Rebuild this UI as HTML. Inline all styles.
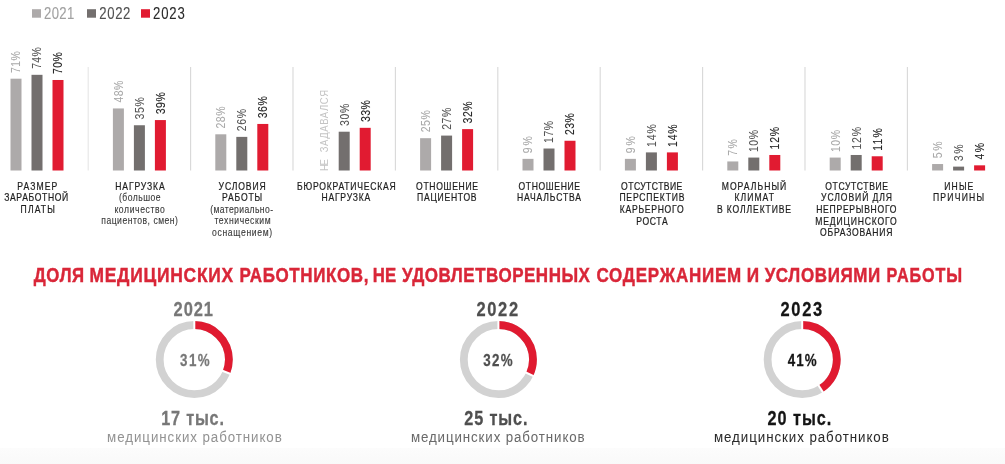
<!DOCTYPE html>
<html><head><meta charset="utf-8"><style>
html,body{margin:0;padding:0;background:#fff;overflow:hidden;}
svg{display:block;font-family:"Liberation Sans",sans-serif;will-change:transform;}
</style></head><body>
<svg width="1005" height="464" viewBox="0 0 1005 464">
<defs><linearGradient id="bg" x1="0" y1="0" x2="0" y2="1"><stop offset="0" stop-color="#fcfcfc"/><stop offset="1" stop-color="#f9f9f9"/></linearGradient></defs>
<rect x="0" y="448" width="1005" height="16" fill="url(#bg)"/>
<g id="shapes">
<rect x="32" y="9.2" width="9" height="8.5" fill="#adaaaa"/>
<rect x="87" y="9.2" width="9" height="8.5" fill="#736f6e"/>
<rect x="141" y="9.2" width="9" height="8.5" fill="#e11b31"/>
<line x1="88.20" y1="67" x2="88.20" y2="170.5" stroke="#e6e6e6" stroke-width="1.1"/>
<rect x="10.50" y="78.70" width="11" height="91.80" fill="#adaaaa"/>
<rect x="31.50" y="74.82" width="11" height="95.68" fill="#736f6e"/>
<rect x="52.50" y="79.99" width="11" height="90.51" fill="#e11b31"/>
<line x1="190.60" y1="67" x2="190.60" y2="170.5" stroke="#d8d8d8" stroke-width="1.1"/>
<rect x="112.90" y="108.44" width="11" height="62.06" fill="#adaaaa"/>
<rect x="133.90" y="125.25" width="11" height="45.25" fill="#736f6e"/>
<rect x="154.90" y="120.07" width="11" height="50.43" fill="#e11b31"/>
<line x1="293.00" y1="67" x2="293.00" y2="170.5" stroke="#d8d8d8" stroke-width="1.1"/>
<rect x="215.30" y="134.30" width="11" height="36.20" fill="#adaaaa"/>
<rect x="236.30" y="136.88" width="11" height="33.62" fill="#736f6e"/>
<rect x="257.30" y="123.95" width="11" height="46.55" fill="#e11b31"/>
<line x1="395.40" y1="67" x2="395.40" y2="170.5" stroke="#d8d8d8" stroke-width="1.1"/>
<rect x="338.70" y="131.71" width="11" height="38.79" fill="#736f6e"/>
<rect x="359.70" y="127.83" width="11" height="42.67" fill="#e11b31"/>
<line x1="497.80" y1="67" x2="497.80" y2="170.5" stroke="#d8d8d8" stroke-width="1.1"/>
<rect x="420.10" y="138.18" width="11" height="32.32" fill="#adaaaa"/>
<rect x="441.10" y="135.59" width="11" height="34.91" fill="#736f6e"/>
<rect x="462.10" y="129.12" width="11" height="41.38" fill="#e11b31"/>
<line x1="600.20" y1="67" x2="600.20" y2="170.5" stroke="#d8d8d8" stroke-width="1.1"/>
<rect x="522.50" y="158.86" width="11" height="11.64" fill="#adaaaa"/>
<rect x="543.50" y="148.52" width="11" height="21.98" fill="#736f6e"/>
<rect x="564.50" y="140.76" width="11" height="29.74" fill="#e11b31"/>
<line x1="702.60" y1="67" x2="702.60" y2="170.5" stroke="#d8d8d8" stroke-width="1.1"/>
<rect x="624.90" y="158.86" width="11" height="11.64" fill="#adaaaa"/>
<rect x="645.90" y="152.40" width="11" height="18.10" fill="#736f6e"/>
<rect x="666.90" y="152.40" width="11" height="18.10" fill="#e11b31"/>
<line x1="805.00" y1="67" x2="805.00" y2="170.5" stroke="#d8d8d8" stroke-width="1.1"/>
<rect x="727.30" y="161.45" width="11" height="9.05" fill="#adaaaa"/>
<rect x="748.30" y="157.57" width="11" height="12.93" fill="#736f6e"/>
<rect x="769.30" y="154.98" width="11" height="15.52" fill="#e11b31"/>
<line x1="907.40" y1="67" x2="907.40" y2="170.5" stroke="#d8d8d8" stroke-width="1.1"/>
<rect x="829.70" y="157.57" width="11" height="12.93" fill="#adaaaa"/>
<rect x="850.70" y="154.98" width="11" height="15.52" fill="#736f6e"/>
<rect x="871.70" y="156.28" width="11" height="14.22" fill="#e11b31"/>
<rect x="932.10" y="164.03" width="11" height="6.46" fill="#adaaaa"/>
<rect x="953.10" y="166.62" width="11" height="3.88" fill="#736f6e"/>
<rect x="974.10" y="165.33" width="11" height="5.17" fill="#e11b31"/>
<circle cx="194.3" cy="359.6" r="34.6" fill="none" stroke="#d2d2d2" stroke-width="7.8"/>
<circle cx="194.3" cy="359.6" r="34.6" fill="none" stroke="#e01a30" stroke-width="7.8" stroke-dasharray="67.39 217.40" transform="rotate(-90 194.3 359.6)"/>
<line x1="194.30" y1="332.80" x2="194.30" y2="317.20" stroke="#fff" stroke-width="2.0"/>
<line x1="219.22" y1="369.47" x2="233.72" y2="375.21" stroke="#fff" stroke-width="2.0"/>
<circle cx="498.4" cy="359.6" r="34.6" fill="none" stroke="#d2d2d2" stroke-width="7.8"/>
<circle cx="498.4" cy="359.6" r="34.6" fill="none" stroke="#e01a30" stroke-width="7.8" stroke-dasharray="69.57 217.40" transform="rotate(-90 498.4 359.6)"/>
<line x1="498.40" y1="332.80" x2="498.40" y2="317.20" stroke="#fff" stroke-width="2.0"/>
<line x1="522.65" y1="371.01" x2="536.76" y2="377.65" stroke="#fff" stroke-width="2.0"/>
<circle cx="802.2" cy="359.6" r="34.6" fill="none" stroke="#d2d2d2" stroke-width="7.8"/>
<circle cx="802.2" cy="359.6" r="34.6" fill="none" stroke="#e01a30" stroke-width="7.8" stroke-dasharray="89.13 217.40" transform="rotate(-90 802.2 359.6)"/>
<line x1="802.20" y1="332.80" x2="802.20" y2="317.20" stroke="#fff" stroke-width="2.0"/>
<line x1="816.56" y1="382.23" x2="824.92" y2="395.40" stroke="#fff" stroke-width="2.0"/>
</g>
<g id="texts">
<text id="leg0" transform="translate(44.11,18.50) scale(0.82,1)" font-size="16" stroke="#a0a0a0" stroke-width="0.1" fill="#a0a0a0" textLength="36.69" lengthAdjust="spacing">2021</text>
<text id="leg1" transform="translate(99.26,18.50) scale(0.82,1)" font-size="16" stroke="#505050" stroke-width="0.1" fill="#505050" textLength="37.98" lengthAdjust="spacing">2022</text>
<text id="leg2" transform="translate(152.96,18.50) scale(0.82,1)" font-size="16" stroke="#2a2a2a" stroke-width="0.1" fill="#2a2a2a" textLength="38.82" lengthAdjust="spacing">2023</text>
<text id="g0b0" transform="translate(20.40,73.04) rotate(-90) scale(0.84,1)" font-size="12.5" stroke="#a9a9a9" stroke-width="0.06" fill="#a9a9a9" textLength="26.04" lengthAdjust="spacing">71%</text>
<text id="g0b1" transform="translate(41.40,68.87) rotate(-90) scale(0.84,1)" font-size="12.5" stroke="#555555" stroke-width="0.06" fill="#555555" textLength="25.80" lengthAdjust="spacing">74%</text>
<text id="g0b2" transform="translate(62.40,74.06) rotate(-90) scale(0.84,1)" font-size="12.5" stroke="#262626" stroke-width="0.12" fill="#262626" textLength="26.21" lengthAdjust="spacing">70%</text>
<text id="g0c0" transform="translate(17.33,189.60) scale(0.86,1)" font-size="10" stroke="#1e1e1e" stroke-width="0.22" fill="#1e1e1e" textLength="46.54" lengthAdjust="spacing">РАЗМЕР</text>
<text id="g0c1" transform="translate(4.18,201.25) scale(0.86,1)" font-size="10" stroke="#1e1e1e" stroke-width="0.22" fill="#1e1e1e" textLength="74.50" lengthAdjust="spacing">ЗАРАБОТНОЙ</text>
<text id="g0c2" transform="translate(20.60,212.90) scale(0.86,1)" font-size="10" stroke="#1e1e1e" stroke-width="0.22" fill="#1e1e1e" textLength="39.86" lengthAdjust="spacing">ПЛАТЫ</text>
<text id="g1b0" transform="translate(122.80,102.46) rotate(-90) scale(0.84,1)" font-size="12.5" stroke="#a9a9a9" stroke-width="0.06" fill="#a9a9a9" textLength="26.10" lengthAdjust="spacing">48%</text>
<text id="g1b1" transform="translate(143.80,119.47) rotate(-90) scale(0.84,1)" font-size="12.5" stroke="#555555" stroke-width="0.06" fill="#555555" textLength="26.58" lengthAdjust="spacing">35%</text>
<text id="g1b2" transform="translate(164.80,114.37) rotate(-90) scale(0.84,1)" font-size="12.5" stroke="#262626" stroke-width="0.12" fill="#262626" textLength="26.54" lengthAdjust="spacing">39%</text>
<text id="g1c0" transform="translate(115.31,189.60) scale(0.86,1)" font-size="10" stroke="#1e1e1e" stroke-width="0.22" fill="#1e1e1e" textLength="57.37" lengthAdjust="spacing">НАГРУЗКА</text>
<text id="g1s0" transform="translate(118.98,201.25) scale(0.86,1)" font-size="10" stroke="#3a3a3a" stroke-width="0.12" fill="#3a3a3a" textLength="48.39" lengthAdjust="spacing">(большое</text>
<text id="g1s1" transform="translate(114.41,212.65) scale(0.86,1)" font-size="10" stroke="#3a3a3a" stroke-width="0.12" fill="#3a3a3a" textLength="58.57" lengthAdjust="spacing">количество</text>
<text id="g1s2" transform="translate(101.24,224.05) scale(0.86,1)" font-size="10" stroke="#3a3a3a" stroke-width="0.12" fill="#3a3a3a" textLength="89.24" lengthAdjust="spacing">пациентов, смен)</text>
<text id="g2b0" transform="translate(225.20,128.51) rotate(-90) scale(0.84,1)" font-size="12.5" stroke="#a9a9a9" stroke-width="0.06" fill="#a9a9a9" textLength="26.27" lengthAdjust="spacing">28%</text>
<text id="g2b1" transform="translate(246.20,131.15) rotate(-90) scale(0.84,1)" font-size="12.5" stroke="#555555" stroke-width="0.06" fill="#555555" textLength="26.44" lengthAdjust="spacing">26%</text>
<text id="g2b2" transform="translate(267.20,118.25) rotate(-90) scale(0.84,1)" font-size="12.5" stroke="#262626" stroke-width="0.12" fill="#262626" textLength="26.17" lengthAdjust="spacing">36%</text>
<text id="g2c0" transform="translate(218.60,189.60) scale(0.86,1)" font-size="10" stroke="#1e1e1e" stroke-width="0.22" fill="#1e1e1e" textLength="54.77" lengthAdjust="spacing">УСЛОВИЯ</text>
<text id="g2c1" transform="translate(222.06,201.25) scale(0.86,1)" font-size="10" stroke="#1e1e1e" stroke-width="0.22" fill="#1e1e1e" textLength="46.54" lengthAdjust="spacing">РАБОТЫ</text>
<text id="g2s0" transform="translate(210.24,212.90) scale(0.86,1)" font-size="10" stroke="#3a3a3a" stroke-width="0.12" fill="#3a3a3a" textLength="73.01" lengthAdjust="spacing">(материально-</text>
<text id="g2s1" transform="translate(214.44,224.30) scale(0.86,1)" font-size="10" stroke="#3a3a3a" stroke-width="0.12" fill="#3a3a3a" textLength="65.24" lengthAdjust="spacing">техническим</text>
<text id="g2s2" transform="translate(212.02,235.70) scale(0.86,1)" font-size="10" stroke="#3a3a3a" stroke-width="0.12" fill="#3a3a3a" textLength="69.94" lengthAdjust="spacing">оснащением)</text>
<text id="g3nz" transform="translate(327.70,171.10) rotate(-90) scale(0.8,1)" font-size="11.8" fill="#c4c4c4" textLength="14.94" lengthAdjust="spacing">НЕ</text>
<text id="g3nz2" transform="translate(327.70,152.33) rotate(-90) scale(0.8,1)" font-size="11.8" fill="#c4c4c4" textLength="77.99" lengthAdjust="spacing">ЗАДАВАЛСЯ</text>
<text id="g3b1" transform="translate(348.60,126.06) rotate(-90) scale(0.84,1)" font-size="12.5" stroke="#555555" stroke-width="0.06" fill="#555555" textLength="26.58" lengthAdjust="spacing">30%</text>
<text id="g3b2" transform="translate(369.60,122.04) rotate(-90) scale(0.84,1)" font-size="12.5" stroke="#262626" stroke-width="0.12" fill="#262626" textLength="26.12" lengthAdjust="spacing">33%</text>
<text id="g3c0" transform="translate(297.10,189.60) scale(0.86,1)" font-size="10" stroke="#1e1e1e" stroke-width="0.22" fill="#1e1e1e" textLength="114.64" lengthAdjust="spacing">БЮРОКРАТИЧЕСКАЯ</text>
<text id="g3c1" transform="translate(321.41,201.25) scale(0.86,1)" font-size="10" stroke="#1e1e1e" stroke-width="0.22" fill="#1e1e1e" textLength="56.78" lengthAdjust="spacing">НАГРУЗКА</text>
<text id="g4b0" transform="translate(430.00,132.33) rotate(-90) scale(0.84,1)" font-size="12.5" stroke="#a9a9a9" stroke-width="0.06" fill="#a9a9a9" textLength="26.49" lengthAdjust="spacing">25%</text>
<text id="g4b1" transform="translate(451.00,129.86) rotate(-90) scale(0.84,1)" font-size="12.5" stroke="#555555" stroke-width="0.06" fill="#555555" textLength="26.54" lengthAdjust="spacing">27%</text>
<text id="g4b2" transform="translate(472.00,123.46) rotate(-90) scale(0.84,1)" font-size="12.5" stroke="#262626" stroke-width="0.12" fill="#262626" textLength="26.35" lengthAdjust="spacing">32%</text>
<text id="g4c0" transform="translate(416.11,189.60) scale(0.86,1)" font-size="10" stroke="#1e1e1e" stroke-width="0.22" fill="#1e1e1e" textLength="71.94" lengthAdjust="spacing">ОТНОШЕНИЕ</text>
<text id="g4c1" transform="translate(417.07,201.25) scale(0.86,1)" font-size="10" stroke="#1e1e1e" stroke-width="0.22" fill="#1e1e1e" textLength="69.22" lengthAdjust="spacing">ПАЦИЕНТОВ</text>
<text id="g5b0" transform="translate(532.40,153.14) rotate(-90) scale(0.84,1)" font-size="12.5" stroke="#a9a9a9" stroke-width="0.06" fill="#a9a9a9" textLength="20.21" lengthAdjust="spacing">9%</text>
<text id="g5b1" transform="translate(553.40,143.05) rotate(-90) scale(0.84,1)" font-size="12.5" stroke="#555555" stroke-width="0.06" fill="#555555" textLength="26.48" lengthAdjust="spacing">17%</text>
<text id="g5b2" transform="translate(574.40,135.03) rotate(-90) scale(0.84,1)" font-size="12.5" stroke="#262626" stroke-width="0.12" fill="#262626" textLength="26.08" lengthAdjust="spacing">23%</text>
<text id="g5c0" transform="translate(518.54,189.60) scale(0.86,1)" font-size="10" stroke="#1e1e1e" stroke-width="0.22" fill="#1e1e1e" textLength="71.52" lengthAdjust="spacing">ОТНОШЕНИЕ</text>
<text id="g5c1" transform="translate(516.95,201.25) scale(0.86,1)" font-size="10" stroke="#1e1e1e" stroke-width="0.22" fill="#1e1e1e" textLength="74.56" lengthAdjust="spacing">НАЧАЛЬСТВА</text>
<text id="g6b0" transform="translate(634.80,153.14) rotate(-90) scale(0.84,1)" font-size="12.5" stroke="#a9a9a9" stroke-width="0.06" fill="#a9a9a9" textLength="20.21" lengthAdjust="spacing">9%</text>
<text id="g6b1" transform="translate(655.80,146.98) rotate(-90) scale(0.84,1)" font-size="12.5" stroke="#555555" stroke-width="0.06" fill="#555555" textLength="27.06" lengthAdjust="spacing">14%</text>
<text id="g6b2" transform="translate(676.80,146.90) rotate(-90) scale(0.84,1)" font-size="12.5" stroke="#262626" stroke-width="0.12" fill="#262626" textLength="26.73" lengthAdjust="spacing">14%</text>
<text id="g6c0" transform="translate(621.11,189.60) scale(0.86,1)" font-size="10" stroke="#1e1e1e" stroke-width="0.22" fill="#1e1e1e" textLength="71.20" lengthAdjust="spacing">ОТСУТСТВИЕ</text>
<text id="g6c1" transform="translate(619.39,201.25) scale(0.86,1)" font-size="10" stroke="#1e1e1e" stroke-width="0.22" fill="#1e1e1e" textLength="75.65" lengthAdjust="spacing">ПЕРСПЕКТИВ</text>
<text id="g6c2" transform="translate(619.74,212.90) scale(0.86,1)" font-size="10" stroke="#1e1e1e" stroke-width="0.22" fill="#1e1e1e" textLength="74.28" lengthAdjust="spacing">КАРЬЕРНОГО</text>
<text id="g6c3" transform="translate(636.33,224.55) scale(0.86,1)" font-size="10" stroke="#1e1e1e" stroke-width="0.22" fill="#1e1e1e" textLength="36.41" lengthAdjust="spacing">РОСТА</text>
<text id="g7b0" transform="translate(737.20,155.74) rotate(-90) scale(0.84,1)" font-size="12.5" stroke="#a9a9a9" stroke-width="0.06" fill="#a9a9a9" textLength="19.62" lengthAdjust="spacing">7%</text>
<text id="g7b1" transform="translate(758.20,152.10) rotate(-90) scale(0.84,1)" font-size="12.5" stroke="#555555" stroke-width="0.06" fill="#555555" textLength="26.49" lengthAdjust="spacing">10%</text>
<text id="g7b2" transform="translate(779.20,149.42) rotate(-90) scale(0.84,1)" font-size="12.5" stroke="#262626" stroke-width="0.12" fill="#262626" textLength="26.76" lengthAdjust="spacing">12%</text>
<text id="g7c0" transform="translate(721.70,189.60) scale(0.86,1)" font-size="10" stroke="#1e1e1e" stroke-width="0.22" fill="#1e1e1e" textLength="75.09" lengthAdjust="spacing">МОРАЛЬНЫЙ</text>
<text id="g7c1" transform="translate(734.47,201.25) scale(0.86,1)" font-size="10" stroke="#1e1e1e" stroke-width="0.22" fill="#1e1e1e" textLength="45.88" lengthAdjust="spacing">КЛИМАТ</text>
<text id="g7c2" transform="translate(716.98,212.90) scale(0.86,1)" font-size="10" stroke="#1e1e1e" stroke-width="0.22" fill="#1e1e1e" textLength="86.15" lengthAdjust="spacing">В КОЛЛЕКТИВЕ</text>
<text id="g8b0" transform="translate(839.60,152.10) rotate(-90) scale(0.84,1)" font-size="12.5" stroke="#a9a9a9" stroke-width="0.06" fill="#a9a9a9" textLength="26.39" lengthAdjust="spacing">10%</text>
<text id="g8b1" transform="translate(860.60,149.50) rotate(-90) scale(0.84,1)" font-size="12.5" stroke="#555555" stroke-width="0.06" fill="#555555" textLength="26.88" lengthAdjust="spacing">12%</text>
<text id="g8b2" transform="translate(881.60,150.73) rotate(-90) scale(0.84,1)" font-size="12.5" stroke="#262626" stroke-width="0.12" fill="#262626" textLength="26.85" lengthAdjust="spacing">11%</text>
<text id="g8c0" transform="translate(825.31,189.60) scale(0.86,1)" font-size="10" stroke="#1e1e1e" stroke-width="0.22" fill="#1e1e1e" textLength="72.95" lengthAdjust="spacing">ОТСУТСТВИЕ</text>
<text id="g8c1" transform="translate(821.12,201.25) scale(0.86,1)" font-size="10" stroke="#1e1e1e" stroke-width="0.22" fill="#1e1e1e" textLength="82.40" lengthAdjust="spacing">УСЛОВИЙ ДЛЯ</text>
<text id="g8c2" transform="translate(816.13,212.90) scale(0.86,1)" font-size="10" stroke="#1e1e1e" stroke-width="0.22" fill="#1e1e1e" textLength="93.50" lengthAdjust="spacing">НЕПРЕРЫВНОГО</text>
<text id="g8c3" transform="translate(815.21,224.55) scale(0.86,1)" font-size="10" stroke="#1e1e1e" stroke-width="0.22" fill="#1e1e1e" textLength="94.77" lengthAdjust="spacing">МЕДИЦИНСКОГО</text>
<text id="g8c4" transform="translate(820.03,236.20) scale(0.86,1)" font-size="10" stroke="#1e1e1e" stroke-width="0.22" fill="#1e1e1e" textLength="84.22" lengthAdjust="spacing">ОБРАЗОВАНИЯ</text>
<text id="g9b0" transform="translate(942.00,158.21) rotate(-90) scale(0.84,1)" font-size="12.5" stroke="#a9a9a9" stroke-width="0.06" fill="#a9a9a9" textLength="19.87" lengthAdjust="spacing">5%</text>
<text id="g9b1" transform="translate(963.00,161.19) rotate(-90) scale(0.84,1)" font-size="12.5" stroke="#555555" stroke-width="0.06" fill="#555555" textLength="19.86" lengthAdjust="spacing">3%</text>
<text id="g9b2" transform="translate(984.00,159.38) rotate(-90) scale(0.84,1)" font-size="12.5" stroke="#262626" stroke-width="0.12" fill="#262626" textLength="19.52" lengthAdjust="spacing">4%</text>
<text id="g9c0" transform="translate(944.27,189.60) scale(0.86,1)" font-size="10" stroke="#1e1e1e" stroke-width="0.22" fill="#1e1e1e" textLength="33.80" lengthAdjust="spacing">ИНЫЕ</text>
<text id="g9c1" transform="translate(932.93,201.25) scale(0.86,1)" font-size="10" stroke="#1e1e1e" stroke-width="0.22" fill="#1e1e1e" textLength="59.48" lengthAdjust="spacing">ПРИЧИНЫ</text>
<text id="title0" transform="translate(33.65,281.70) scale(0.84,1)" font-size="20" font-weight="bold" stroke="#d92638" stroke-width="0.45" fill="#d92638" textLength="60.15" lengthAdjust="spacing">ДОЛЯ</text>
<text id="title1" transform="translate(89.51,281.70) scale(0.87,1)" font-size="20" font-weight="bold" stroke="#d92638" stroke-width="0.45" fill="#d92638" textLength="165.11" lengthAdjust="spacing">МЕДИЦИНСКИХ</text>
<text id="title2" transform="translate(239.38,281.70) scale(0.85,1)" font-size="20" font-weight="bold" stroke="#d92638" stroke-width="0.45" fill="#d92638" textLength="151.76" lengthAdjust="spacing">РАБОТНИКОВ,</text>
<text id="title3" transform="translate(372.74,281.70) scale(0.84,1)" font-size="20" font-weight="bold" stroke="#d92638" stroke-width="0.45" fill="#d92638" textLength="28.07" lengthAdjust="spacing">НЕ</text>
<text id="title4" transform="translate(401.90,281.70) scale(0.85,1)" font-size="20" font-weight="bold" stroke="#d92638" stroke-width="0.45" fill="#d92638" textLength="221.22" lengthAdjust="spacing">УДОВЛЕТВОРЕННЫХ</text>
<text id="title5" transform="translate(596.48,281.70) scale(0.85,1)" font-size="20" font-weight="bold" stroke="#d92638" stroke-width="0.45" fill="#d92638" textLength="170.34" lengthAdjust="spacing">СОДЕРЖАНИЕМ</text>
<text id="title6" transform="translate(746.78,281.70) scale(0.86,1)" font-size="20" font-weight="bold" stroke="#d92638" stroke-width="0.45" fill="#d92638" textLength="-0.40" lengthAdjust="spacing">И</text>
<text id="title7" transform="translate(764.67,281.70) scale(0.85,1)" font-size="20" font-weight="bold" stroke="#d92638" stroke-width="0.45" fill="#d92638" textLength="136.09" lengthAdjust="spacing">УСЛОВИЯМИ</text>
<text id="title8" transform="translate(886.59,281.70) scale(0.81,1)" font-size="20" font-weight="bold" stroke="#d92638" stroke-width="0.45" fill="#d92638" textLength="93.37" lengthAdjust="spacing">РАБОТЫ</text>
<text id="d0y" transform="translate(173.60,315.90) scale(0.8,1)" font-size="20.6" font-weight="bold" stroke="#777777" stroke-width="0.28" fill="#777777" textLength="49.11" lengthAdjust="spacing">2021</text>
<text id="d0p" transform="translate(180.12,365.90) scale(0.82,1)" font-size="16.3" font-weight="bold" stroke="#777777" stroke-width="0.25" fill="#777777" textLength="35.98" lengthAdjust="spacing">31%</text>
<text id="d0t" transform="translate(161.32,425.00) scale(0.78,1)" font-size="20.8" font-weight="bold" stroke="#777777" stroke-width="0.3" fill="#777777" textLength="80.23" lengthAdjust="spacing">17 тыс.</text>
<text id="d0m" transform="translate(107.11,442.30) scale(0.86,1)" font-size="15.5" stroke="#939393" stroke-width="0.03" fill="#939393" textLength="203.10" lengthAdjust="spacing">медицинских работников</text>
<text id="d1y" transform="translate(476.54,315.90) scale(0.8,1)" font-size="20.6" font-weight="bold" stroke="#4f4f4f" stroke-width="0.28" fill="#4f4f4f" textLength="51.93" lengthAdjust="spacing">2022</text>
<text id="d1p" transform="translate(483.14,365.90) scale(0.82,1)" font-size="16.3" font-weight="bold" stroke="#4f4f4f" stroke-width="0.25" fill="#4f4f4f" textLength="35.82" lengthAdjust="spacing">32%</text>
<text id="d1t" transform="translate(464.36,425.00) scale(0.78,1)" font-size="20.8" font-weight="bold" stroke="#4f4f4f" stroke-width="0.3" fill="#4f4f4f" textLength="80.83" lengthAdjust="spacing">25 тыс.</text>
<text id="d1m" transform="translate(410.89,442.30) scale(0.86,1)" font-size="15.5" stroke="#6a6a6a" stroke-width="0.03" fill="#6a6a6a" textLength="202.08" lengthAdjust="spacing">медицинских работников</text>
<text id="d2y" transform="translate(780.38,315.90) scale(0.8,1)" font-size="20.6" font-weight="bold" stroke="#151515" stroke-width="0.28" fill="#151515" textLength="52.34" lengthAdjust="spacing">2023</text>
<text id="d2p" transform="translate(787.80,365.90) scale(0.82,1)" font-size="16.3" font-weight="bold" stroke="#151515" stroke-width="0.25" fill="#151515" textLength="35.17" lengthAdjust="spacing">41%</text>
<text id="d2t" transform="translate(767.61,425.00) scale(0.78,1)" font-size="20.8" font-weight="bold" stroke="#151515" stroke-width="0.3" fill="#151515" textLength="81.54" lengthAdjust="spacing">20 тыс.</text>
<text id="d2m" transform="translate(713.98,442.30) scale(0.86,1)" font-size="15.5" stroke="#2a2a2a" stroke-width="0.03" fill="#2a2a2a" textLength="203.25" lengthAdjust="spacing">медицинских работников</text>
</g>
</svg>
</body></html>
